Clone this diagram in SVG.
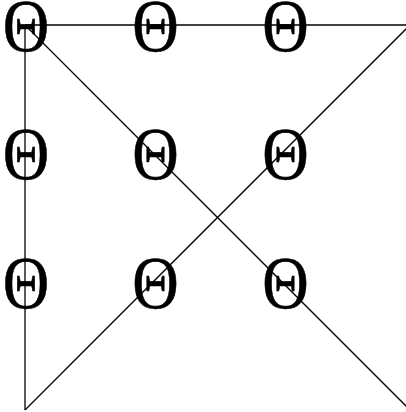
<svg xmlns="http://www.w3.org/2000/svg" width="406" height="412" viewBox="0 0 406 412">
<style>
.n{font-family:"Liberation Serif","Times New Roman",serif;font-size:74px;fill:#000;stroke:#000;stroke-width:0.6;text-anchor:middle}
.e{stroke:#000;stroke-width:1.3;fill:none}
</style>
<rect width="406" height="412" fill="#fff"/>
<g id="connectors">
<line class="e" x1="25" y1="25" x2="410" y2="25"/>
<line class="e" x1="410" y1="25" x2="25" y2="410"/>
<line class="e" x1="25" y1="410" x2="25" y2="25"/>
<line class="e" x1="25" y1="25" x2="410" y2="410"/>
</g>
<g id="n1"><text class="n" transform="translate(26,51) scale(0.87,1)">Θ</text></g>
<g id="n2"><text class="n" transform="translate(155.5,51) scale(0.87,1)">Θ</text></g>
<g id="n3"><text class="n" transform="translate(285.5,51) scale(0.87,1)">Θ</text></g>
<g id="n4"><text class="n" transform="translate(26,179) scale(0.87,1)">Θ</text></g>
<g id="n5"><text class="n" transform="translate(155.5,179) scale(0.87,1)">Θ</text></g>
<g id="n6"><text class="n" transform="translate(285.5,179) scale(0.87,1)">Θ</text></g>
<g id="n7"><text class="n" transform="translate(26,308) scale(0.87,1)">Θ</text></g>
<g id="n8"><text class="n" transform="translate(155.5,308) scale(0.87,1)">Θ</text></g>
<g id="n9"><text class="n" transform="translate(285.5,308) scale(0.87,1)">Θ</text></g>
</svg>
